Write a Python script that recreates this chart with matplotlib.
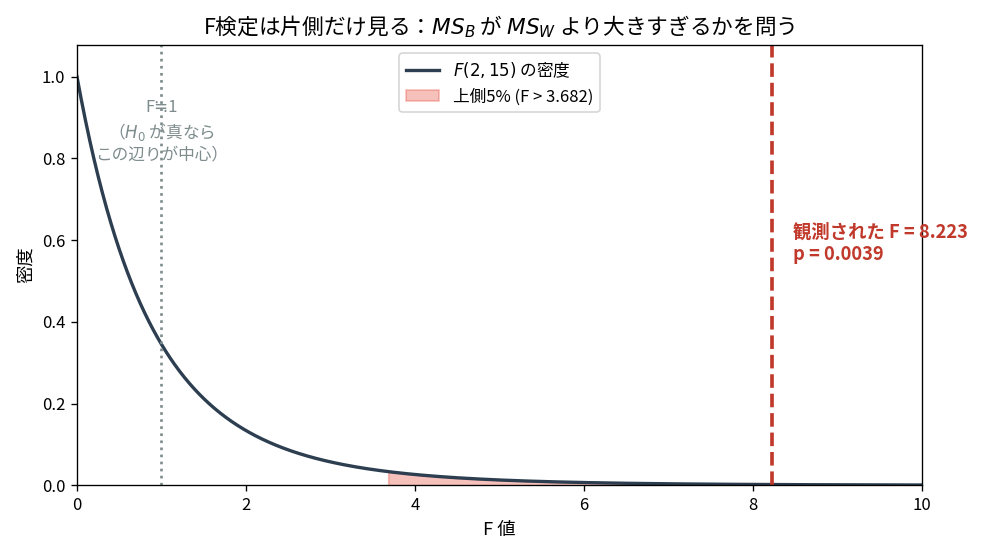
import math
import numpy as np
import matplotlib
matplotlib.use("Agg")
import matplotlib.pyplot as plt

plt.rcParams['font.family'] = ['Noto Sans CJK JP', 'DejaVu Sans']
plt.rcParams['axes.unicode_minus'] = False

df1 = 2
df2 = 15
f_obs = 8.223
p_value = 0.0039
f_crit = 3.682
x_max = 10

def f_pdf(x, d1, d2):
    lognum = (math.lgamma((d1 + d2) / 2) - math.lgamma(d1 / 2) - math.lgamma(d2 / 2)
              + (d1 / 2) * math.log(d1 / d2))
    return np.exp(lognum) * x ** (d1 / 2 - 1) * (1 + d1 * x / d2) ** (-(d1 + d2) / 2)

x = np.linspace(0, x_max, 1000)
y = f_pdf(x, df1, df2)

DPI = 120
fig, ax = plt.subplots(figsize=(987 / DPI, 554 / DPI), dpi=DPI)
fig.subplots_adjust(left=0.078, right=0.934, top=0.919, bottom=0.124)

ax.plot(x, y, color='#2c3e50', lw=2, label=f'$F({df1}, {df2})$ の密度')
mask = x >= f_crit
ax.fill_between(x[mask], y[mask], 0, color='#e74c3c', alpha=0.35,
                label=f'上側5% (F > {f_crit:.3f})')
ax.axvline(1, color='#7f8c8d', ls=':', lw=1.6)
ax.axvline(f_obs, color='#c0392b', ls='--', lw=2.2)

ax.text(1, 0.865, 'F≒1\n（$H_0$ が真なら\nこの辺りが中心）', ha='center', va='center',
        color='#7f8c8d', fontsize=10, linespacing=1.3)
ax.text(8.48, 0.592, f'観測された F = {f_obs:.3f}\np = {p_value:.4f}', ha='left', va='center',
        color='#c0392b', fontsize=11, fontweight='bold', linespacing=1.2)

ax.set_xlim(0, x_max)
ax.set_ylim(0, 1.078)
ax.tick_params(labelsize=10)
ax.set_xlabel('F 値', fontsize=11)
ax.set_ylabel('密度', fontsize=11)
ax.set_title('F検定は片側だけ見る：$MS_B$ が $MS_W$ より大きすぎるかを問う', fontsize=13)
ax.legend(loc='upper center', fontsize=10)

fig.savefig('out.png', dpi=DPI)
